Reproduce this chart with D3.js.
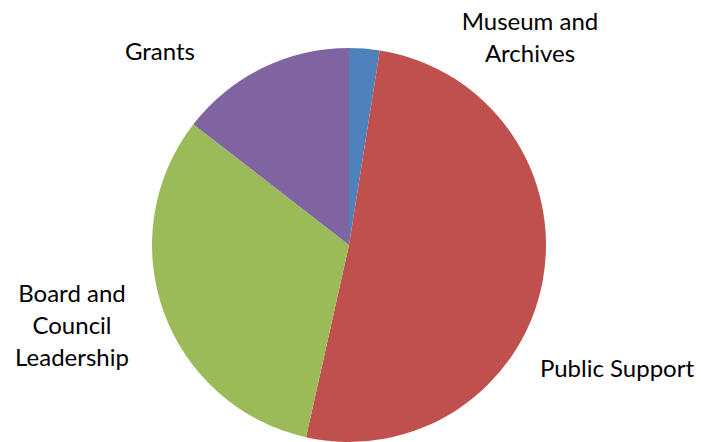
<!DOCTYPE html>
<html>
<head>
<meta charset="utf-8">
<script src="https://cdn.jsdelivr.net/npm/d3@7"></script>
<style>
  body { margin: 0; background: #fff; }
  svg text { font-family: Lato, "Open Sans", sans-serif; font-size: 24px; fill: #000; }
</style>
</head>
<body>
<div id="grafica"></div>
<script>
// datos del grafico
var categorias = ['Museum and Archives', 'Public Support', 'Board and Council Leadership', 'Grants'];
var valores = [2.5, 51, 32, 14.5];
var colores = ['#4F81BD', '#C0504D', '#9BBB59', '#8064A2'];
// etiquetas partidas en lineas como en la imagen
var etiquetas = [['Museum and', 'Archives'], ['Public Support'], ['Board and', 'Council', 'Leadership'], ['Grants']];

var width = 701, height = 442;
var cx = 349, cy = 245, radio = 197;

var svg = d3.select('#grafica').append('svg')
  .attr('width', width)
  .attr('height', height);

var pie = d3.pie().sort(null).value(function (d) { return d; });
var arc = d3.arc().innerRadius(0).outerRadius(radio);

var g = svg.append('g').attr('transform', 'translate(' + cx + ',' + cy + ')');

g.selectAll('path')
  .data(pie(valores))
  .enter().append('path')
  .attr('d', arc)
  .attr('fill', function (d, i) { return colores[i]; });

// posiciones de las etiquetas (fuera del circulo)
var posEtiquetas = [[530, 20], [617, 367], [72, 292], [160, 50]];
var lineaAlto = 32;

etiquetas.forEach(function (lineas, i) {
  var t = svg.append('text')
    .attr('text-anchor', 'middle')
    .attr('x', posEtiquetas[i][0])
    .attr('y', posEtiquetas[i][1])
    .attr('dominant-baseline', 'central');
  lineas.forEach(function (l, j) {
    t.append('tspan')
      .attr('x', posEtiquetas[i][0])
      .attr('dy', j === 0 ? 0 : lineaAlto)
      .text(l);
  });
});
</script>
</body>
</html>
